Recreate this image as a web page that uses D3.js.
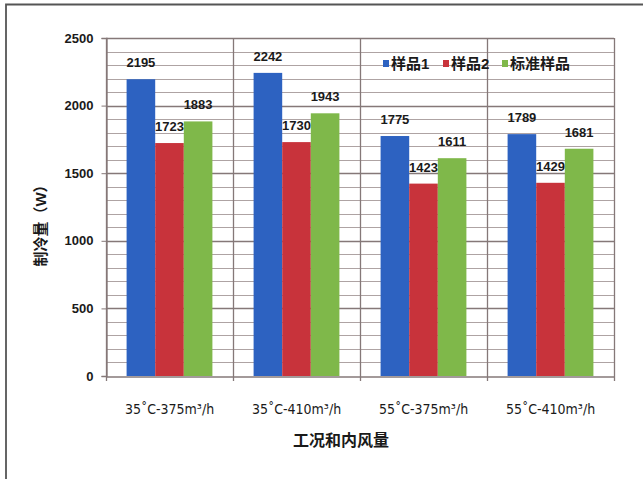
<!DOCTYPE html>
<html>
<head>
<meta charset="utf-8">
<script src="https://cdn.jsdelivr.net/npm/d3@7/dist/d3.min.js"></script>
<style>
  html, body { margin: 0; padding: 0; background: #fff; }
  svg { display: block; }
  text { font-family: "Liberation Sans", "Noto Sans CJK SC", sans-serif; fill: #1a1a1a; }
</style>
</head>
<body>
<svg id="chart" width="643" height="479"></svg>
<script>
// Cooling capacity per operating condition and sample
const categories = ["35˚C-375m³/h", "35˚C-410m³/h", "55˚C-375m³/h", "55˚C-410m³/h"];
const seriesNames = ["样品1", "样品2", "标准样品"];
const sample1 = [2195, 2242, 1775, 1789];
const sample2 = [1723, 1730, 1423, 1429];
const standard = [1883, 1943, 1611, 1681];
const yTicks = [0, 500, 1000, 1500, 2000, 2500];
const colors = ["#2d62c1", "#c8333b", "#7fb84a"];

const seriesValues = [sample1, sample2, standard];
const rows = categories.map((c, i) => ({
  cat: c,
  vals: seriesNames.map((s, j) => ({ key: s, idx: j, value: seriesValues[j][i] }))
}));

const svg = d3.select("#chart");
const plot = { left: 106, right: 614, top: 38, bottom: 376 };

// outer frame (top and left rule)
svg.append("path")
  .attr("d", "M6,479 L6,4.5 L643,4.5")
  .attr("fill", "none").attr("stroke", "#555").attr("stroke-width", 1.8);

const x = d3.scaleBand().domain(categories).range([plot.left, plot.right]).paddingInner(0).paddingOuter(0);
const xs = d3.scaleBand().domain(seriesNames).range([0, x.bandwidth()]).paddingInner(0).paddingOuter(0.72);
const y = d3.scaleLinear().domain([0, 2500]).range([plot.bottom, plot.top]);

// minor gridlines every 100
const minor = d3.range(100, 2500, 100).filter(v => v % 500 !== 0);
svg.append("g").selectAll("line").data(minor).join("line")
  .attr("x1", plot.left).attr("x2", plot.right)
  .attr("y1", d => Math.round(y(d)) + 0.5).attr("y2", d => Math.round(y(d)) + 0.5)
  .attr("stroke", "#aea3a3").attr("stroke-width", 1);

// major gridlines
svg.append("g").selectAll("line").data(yTicks.filter(v => v > 0)).join("line")
  .attr("x1", plot.left).attr("x2", plot.right)
  .attr("y1", d => Math.round(y(d)) + 0.5).attr("y2", d => Math.round(y(d)) + 0.5)
  .attr("stroke", "#857878").attr("stroke-width", 1.3);

// category separators
const seps = categories.map(c => x(c)).concat([plot.right]);
svg.append("g").selectAll("line").data(seps).join("line")
  .attr("x1", d => Math.round(d) + 0.5).attr("x2", d => Math.round(d) + 0.5)
  .attr("y1", plot.top).attr("y2", plot.bottom + 5)
  .attr("stroke", "#857878").attr("stroke-width", 1.3);

// bars
const groups = svg.append("g").selectAll("g").data(rows).join("g")
  .attr("transform", d => `translate(${x(d.cat)},0)`);
groups.selectAll("rect").data(d => d.vals).join("rect")
  .attr("x", d => xs(d.key))
  .attr("width", xs.bandwidth())
  .attr("y", d => y(d.value))
  .attr("height", d => y(0) - y(d.value))
  .attr("fill", d => colors[d.idx]);

// value labels
groups.selectAll("text").data(d => d.vals).join("text")
  .attr("x", d => xs(d.key) + xs.bandwidth() / 2)
  .attr("y", d => y(d.value) - 12)
  .attr("text-anchor", "middle")
  .attr("font-size", 13).attr("font-weight", "bold")
  .text(d => d.value);

// y axis
const yAxis = svg.append("g").attr("transform", `translate(${plot.left + 0.5},0)`)
  .call(d3.axisLeft(y).tickValues(yTicks).tickSize(5).tickPadding(8).tickFormat(d3.format("d")));
yAxis.select(".domain").attr("stroke", "#857878").attr("stroke-width", 1.3);
yAxis.selectAll(".tick line").attr("stroke", "#857878");
yAxis.selectAll(".tick text").attr("font-size", 13).attr("font-weight", "bold")
  .style("font-family", "'Liberation Sans', sans-serif").attr("fill", "#222");

// x axis
const xAxis = svg.append("g").attr("transform", `translate(0,${plot.bottom + 0.5})`)
  .call(d3.axisBottom(x).tickSize(0).tickPadding(28));
xAxis.select(".domain").attr("stroke", "#857878").attr("stroke-width", 1.3);
xAxis.selectAll(".tick text").attr("font-size", 14)
  .style("font-family", "'Liberation Sans Narrow', 'DejaVu Sans Condensed', sans-serif").attr("fill", "#222");

// axis titles
svg.append("text")
  .attr("transform", "translate(46,222) rotate(-90)")
  .attr("text-anchor", "middle").attr("font-size", 15).attr("font-weight", "bold")
  .text("制冷量（W）");
svg.append("text")
  .attr("x", 341).attr("y", 446)
  .attr("text-anchor", "middle").attr("font-size", 16).attr("font-weight", "bold")
  .text("工况和内风量");

// legend
const legendX = [383, 443, 502];
const legend = svg.append("g").selectAll("g").data(seriesNames).join("g")
  .attr("transform", (d, i) => `translate(${legendX[i]},0)`);
legend.append("rect").attr("x", 0).attr("y", 60).attr("width", 6).attr("height", 7)
  .attr("fill", (d, i) => colors[i]);
legend.append("text").attr("x", 8).attr("y", 69)
  .attr("font-size", 15).attr("font-weight", "bold")
  .text(d => d);
</script>
</body>
</html>
